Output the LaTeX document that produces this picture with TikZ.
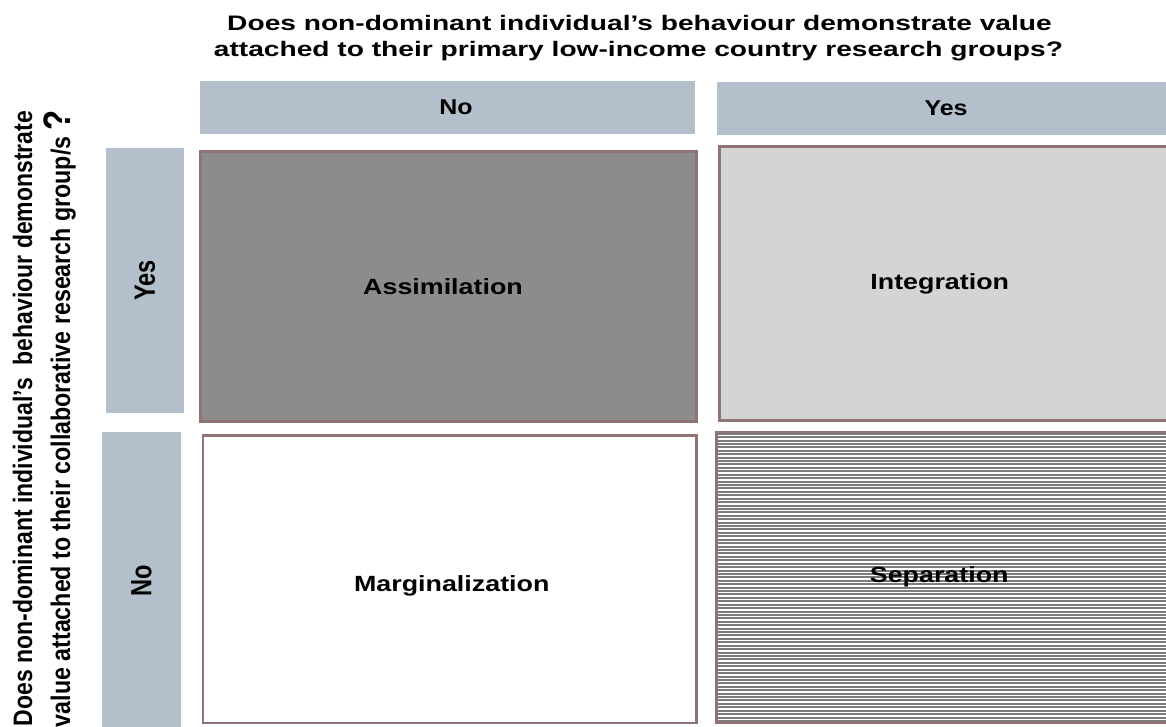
\documentclass[tikz,border=0pt]{standalone}
\usepackage{fontspec}
\setmainfont{Liberation Sans}
\usetikzlibrary{calc}

\definecolor{hdrcol}{HTML}{B3BFCB}
\definecolor{edgecol}{HTML}{8E7474}
\definecolor{darkcell}{HTML}{8C8C8C}
\definecolor{lightcell}{HTML}{D4D4D4}
\definecolor{stripecol}{HTML}{7C7C7C}

% bold text of size #1, stretched horizontally by #2
\newcommand{\hlabel}[3]{\scalebox{#2}[1]{\fontsize{#1}{#1}\selectfont\bfseries #3}}
% bold text of size #1, glyph height stretched by #2 (for rotated text)
\newcommand{\vlabel}[3]{\scalebox{1}[#2]{\fontsize{#1}{#1}\selectfont\bfseries #3}}

\begin{document}
\begin{tikzpicture}[x=1pt,y=-1pt,
  hdrbox/.style={fill=hdrcol, draw=none, inner sep=0pt, outer sep=0pt, anchor=north west},
  cellbox/.style={draw=edgecol, line width=2.8pt, inner sep=0pt, outer sep=0pt, anchor=north west},
  plain/.style={inner sep=0pt, outer sep=0pt},
  stripes/.style={path picture={
    \foreach \k in {0,...,90}{
      \draw[stripecol, line width=2pt]
        ($(path picture bounding box.north west)+(0,1.7+\k*3.42)$) -- +(470,0);
    }}}
]
\useasboundingbox (0,0) rectangle (1166,726);
\clip (0,0) rectangle (1166,726);

% question above the columns
\node[plain, anchor=base] (title1) at (639.5,30)
  {\hlabel{21}{1.34}{Does non-dominant individual’s behaviour demonstrate value}};
\node[plain, anchor=base] (title2) at (638.5,56)
  {\hlabel{21}{1.34}{attached to their primary low-income country research groups?}};

% question beside the rows
\node[plain, rotate=90, anchor=base west] (side1) at (32,726)
  {\vlabel{23}{1.16}{Does non-dominant individual’s\ \ behaviour demonstrate}};
\node[plain, rotate=90, anchor=base west] (side2) at (70,727)
  {\vlabel{23.2}{1.16}{value attached to their collaborative research group/s {\fontsize{33}{33}\selectfont ?}}};

% column headers
\node[hdrbox, minimum width=495pt, minimum height=53pt] (colno) at (200,81) {};
\node[hdrbox, minimum width=449pt, minimum height=53pt] (colyes) at (717,82) {};
\node[plain] (colnotxt) at ($(colno.center)+(8.5,0)$) {\hlabel{21.5}{1.16}{No}};
\node[plain] (colyestxt) at ($(colyes.center)+(4.5,0)$) {\hlabel{21.5}{1.16}{Yes}};

% row headers
\node[hdrbox, minimum width=78pt, minimum height=265pt] (rowyes) at (106,148)
  {\rotatebox{90}{\vlabel{23.6}{1.24}{Yes}}};
\node[hdrbox, minimum width=79pt, minimum height=298pt] (rowno) at (102,432)
  {\rotatebox{90}{\vlabel{23.6}{1.24}{No}}};

% the four outcomes
\node[cellbox, fill=darkcell, minimum width=496pt, minimum height=270pt] (assim) at (200.5,151.5) {};
\node[cellbox, fill=lightcell, minimum width=448.5pt, minimum height=274pt] (integ) at (719.5,146.5) {};
\node[cellbox, fill=white, minimum width=493.5pt, minimum height=287.5pt] (margin) at (203,435.5) {};
\node[cellbox, fill=white, stripes, minimum width=451.5pt, minimum height=290.5pt] (separ) at (716.5,432) {};

\node[plain] (assimtxt) at ($(assim.center)+(-5.5,0)$) {\hlabel{22}{1.22}{Assimilation}};
\node[plain] (integtxt) at ($(integ.center)+(-4,0)$) {\hlabel{22}{1.22}{Integration}};
\node[plain] (margintxt) at ($(margin.center)+(2,7)$) {\hlabel{22}{1.22}{Marginalization}};
\node[plain] (separtxt) at ($(separ.center)+(-3,0)$) {\hlabel{22}{1.22}{Separation}};
\end{tikzpicture}
\end{document}
